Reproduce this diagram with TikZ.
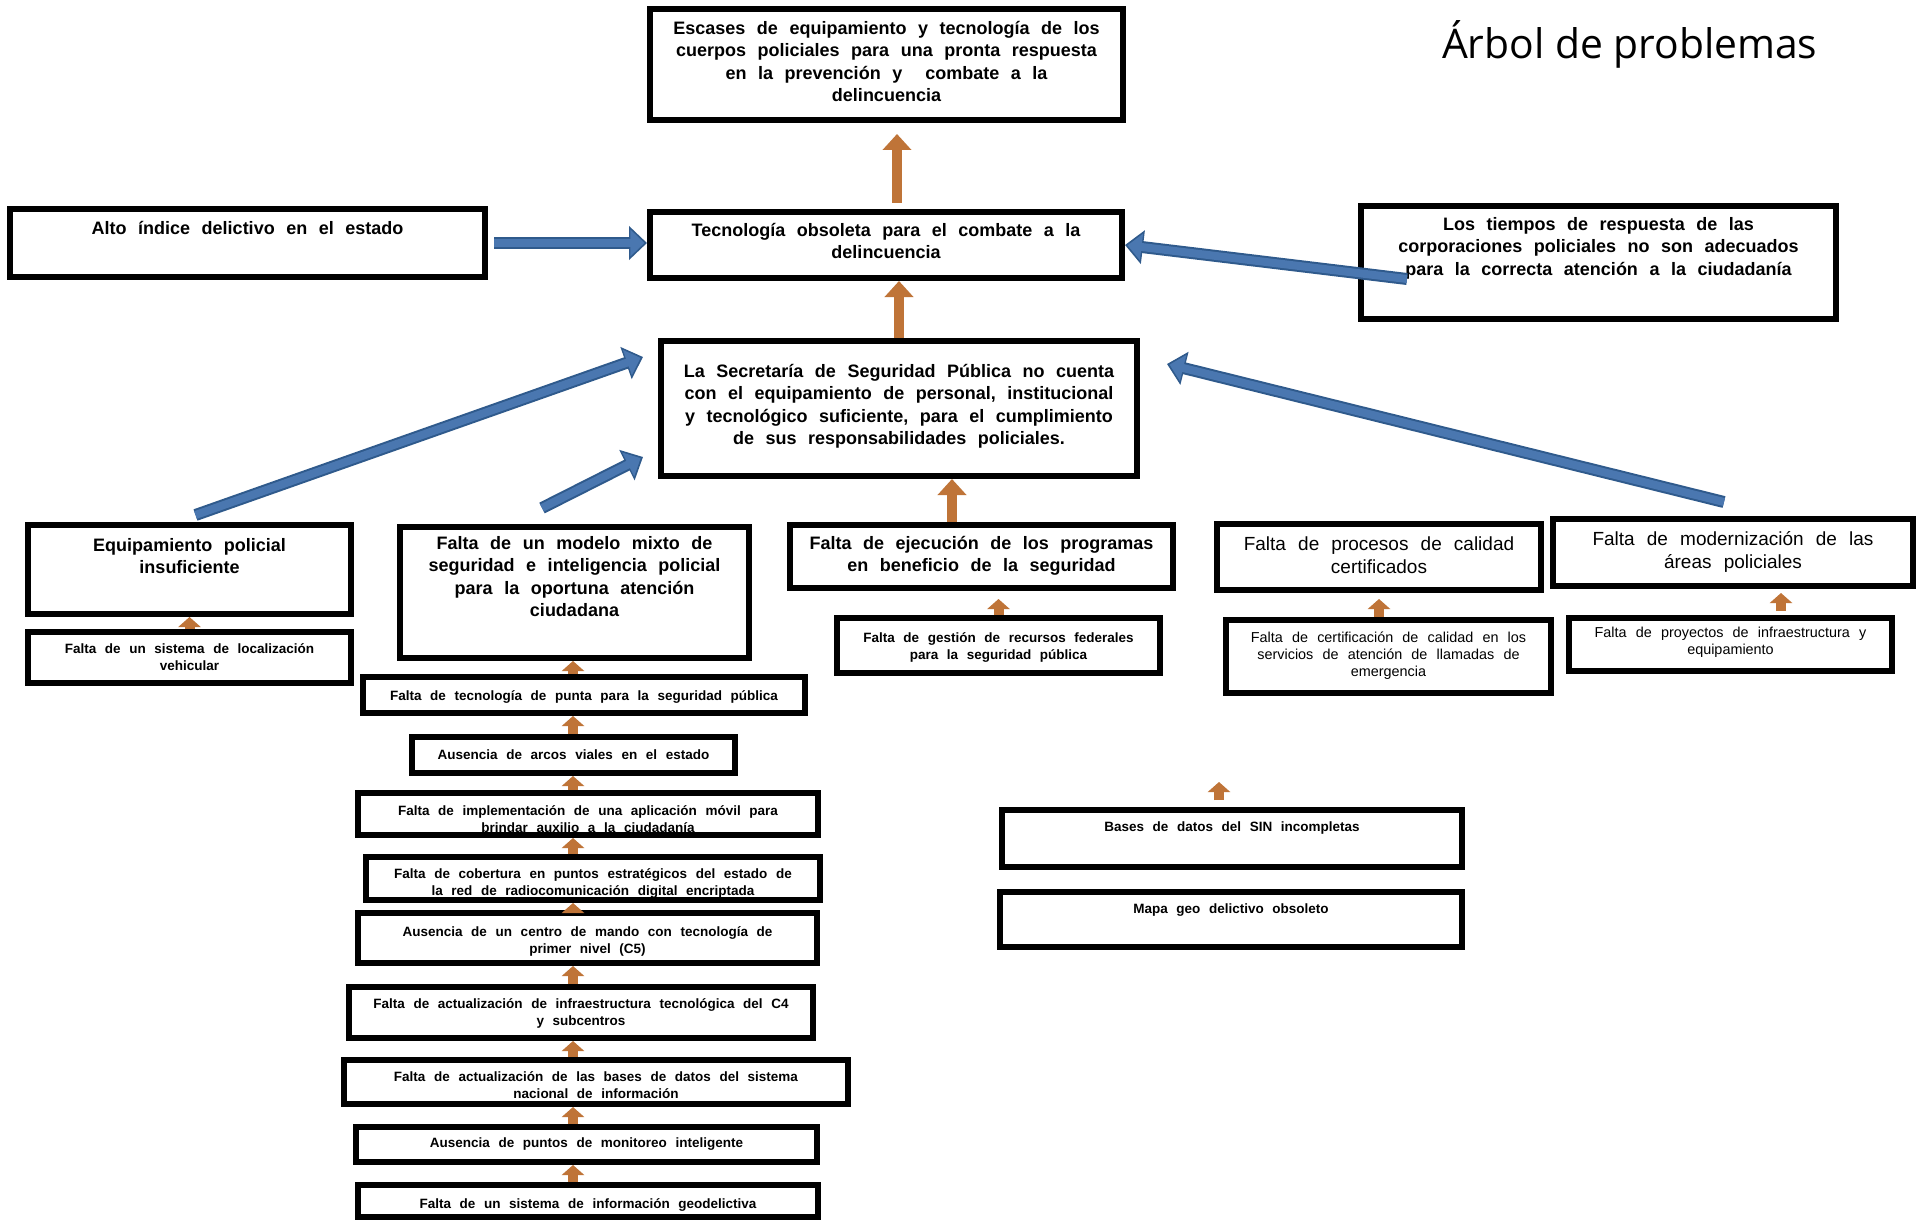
\documentclass[tikz,border=0pt]{standalone}
\usepackage{fontspec}
\setmainfont{Liberation Sans}
\newfontfamily\arialancha[WordSpace=3]{Liberation Sans}
\newfontfamily\arialmedia[WordSpace=2.3]{Liberation Sans}
\newfontfamily\arialchica[WordSpace=2.3]{Liberation Sans}
\newfontfamily\titulofont{Open Sans}
\usetikzlibrary{arrows.meta,positioning}
\definecolor{cafe}{HTML}{BF7438}
\definecolor{azul}{HTML}{4A77B0}
\definecolor{azulborde}{HTML}{2F5A8C}

\tikzset{
  caja/.style={draw, line width=3pt, rectangle, align=center, inner xsep=2pt, inner ysep=0pt, fill=white},
  grande/.style={caja, font=\arialancha\bfseries\fontsize{9pt}{11.2pt}\selectfont},
  media/.style={caja, font=\arialmedia\fontsize{9.5pt}{11.5pt}\selectfont},
  chicareg/.style={caja, font=\arialchica\fontsize{7.2pt}{8.5pt}\selectfont},
  chica/.style={caja, font=\arialchica\bfseries\fontsize{6.75pt}{8.5pt}\selectfont},
  subir/.style={text height=0pt, text depth=#1},
  bajar/.style={text height=#1, text depth=0pt},
  flecha/.style={draw=cafe, line width=5pt, -{Triangle[width=11pt,length=5pt]}},
  flechagrande/.style={draw=cafe, line width=5pt, -{Triangle[width=14pt,length=8pt]}},
  flechaazul/.style={draw=azul, line width=4pt, -{Triangle[width=13pt,length=7pt]}, shorten >=1.3pt,
    preaction={draw=azulborde, line width=6pt, -{Triangle[width=16.5pt,length=9pt]}, shorten >=0pt}}
}

\begin{document}
\begin{tikzpicture}[x=0.5pt,y=-0.5pt]
      \fill[white] (0,0) rectangle (1919,1220);
      \useasboundingbox (0,0) rectangle (1919,1220);

      % Define nodes
      \node[anchor=base west, font=\titulofont\fontsize{20.4pt}{24pt}\selectfont] (titulo) at (1435,59) {Árbol de problemas};

      \node[grande, minimum width=236.5pt, minimum height=55.5pt, bajar=37.2pt] (escases) at (886.5,64.5)
        {Escases de equipamiento y tecnología de los\\cuerpos policiales para una pronta respuesta\\en la prevención y\ \ combate a la\\delincuencia};
      \node[grande, minimum width=236pt, minimum height=33pt, bajar=13.9pt] (tecno) at (886,245)
        {Tecnología obsoleta para el combate a la\\delincuencia};
      \node[grande, minimum width=237.5pt, minimum height=34pt, subir=8.5pt] (alto) at (247.5,243)
        {Alto índice delictivo en el estado};
      \node[grande, minimum width=237.5pt, minimum height=56.5pt, bajar=12.8pt] (tiempos) at (1598.5,262.5)
        {Los tiempos de respuesta de las\\corporaciones policiales no son adecuados\\para la correcta atención a la ciudadanía};
      \node[grande, minimum width=238pt, minimum height=67.5pt, bajar=36.2pt] (ssp) at (899,408.5)
        {La Secretaría de Seguridad Pública no cuenta\\con el equipamiento de personal, institucional\\y tecnológico suficiente, para el cumplimiento\\de sus responsabilidades policiales.};

      \node[grande, minimum width=161.5pt, minimum height=44.5pt, bajar=4.4pt] (equip) at (189.5,569.5)
        {Equipamiento policial\\insuficiente};
      \node[grande, minimum width=174.5pt, minimum height=65.5pt, bajar=24.2pt] (mixto) at (574.5,592.5)
        {Falta de un modelo mixto de\\seguridad e inteligencia policial\\para la oportuna atención\\ciudadana};
      \node[grande, minimum width=191.5pt, minimum height=31.5pt, bajar=15.4pt] (ejec) at (981.5,556.5)
        {Falta de ejecución de los programas\\en beneficio de la seguridad};
      \node[media, minimum width=162pt, minimum height=33pt, bajar=16pt] (proc) at (1379,557)
        {Falta de procesos de calidad\\certificados};
      \node[media, minimum width=180pt, minimum height=33.5pt, bajar=15.5pt] (modern) at (1733,552.5)
        {Falta de modernización de las\\áreas policiales};

      \node[chica, minimum width=161.5pt, minimum height=25.5pt, bajar=13pt] (loc) at (189.5,657.5)
        {Falta de un sistema de localización\\vehicular};
      \node[chica, minimum width=161.5pt, minimum height=27.5pt, bajar=14pt] (gestion) at (998.5,645.5)
        {Falta de gestión de recursos federales\\para la seguridad pública};
      \node[chicareg, minimum width=162.5pt, minimum height=36.5pt, bajar=20pt] (cert) at (1388.5,656.5)
        {Falta de certificación de calidad en los\\servicios de atención de llamadas de\\emergencia};
      \node[chicareg, minimum width=161.5pt, minimum height=26.5pt, bajar=10pt] (proyectos) at (1730.5,644.5)
        {Falta de proyectos de infraestructura y\\equipamiento};

      % cadena bajo el modelo mixto
      \node[chica, minimum width=221pt, minimum height=18pt, bajar=5.5pt] (punta) at (584,695)
        {Falta de tecnología de punta para la seguridad pública};
      \node[chica, minimum width=161.5pt, minimum height=18pt, bajar=4.5pt] (arcos) at (573.5,755)
        {Ausencia de arcos viales en el estado};
      \node[chica, minimum width=230pt, minimum height=21pt, bajar=18.5pt] (app) at (588,814)
        {Falta de implementación de una aplicación móvil para\\brindar auxilio a la ciudadanía};
      \node[chica, minimum width=227pt, minimum height=21.5pt, bajar=17pt] (cobertura) at (593,878.5)
        {Falta de cobertura en puntos estratégicos del estado de\\la red de radiocomunicación digital encriptada};
      \node[chica, minimum width=229.5pt, minimum height=25pt, bajar=15.5pt] (centro) at (587.5,938)
        {Ausencia de un centro de mando con tecnología de\\primer nivel (C5)};
      \node[chica, minimum width=232pt, minimum height=25.5pt, bajar=13pt] (c4) at (581,1012.5)
        {Falta de actualización de infraestructura tecnológica del C4\\y subcentros};
      \node[chica, minimum width=252pt, minimum height=22pt, bajar=16.5pt] (nacional) at (596,1082)
        {Falta de actualización de las bases de datos del sistema\\nacional de información};
      \node[chica, minimum width=230.5pt, minimum height=17.5pt, bajar=3pt] (monitoreo) at (586.5,1144.5)
        {Ausencia de puntos de monitoreo inteligente};
      \node[chica, minimum width=230pt, minimum height=16pt, bajar=7.5pt] (geo) at (588,1201)
        {Falta de un sistema de información geodelictiva};

      \node[chica, minimum width=230pt, minimum height=28.5pt, subir=7pt] (sin) at (1232,838.5)
        {Bases de datos del SIN incompletas};
      \node[chica, minimum width=231pt, minimum height=27.5pt, subir=6pt] (mapa) at (1231,919.5)
        {Mapa geo delictivo obsoleto};

      % Define arrows
      \coordinate (xesc) at (897,0);
      \coordinate (xejec) at (952,0);
      \coordinate (xchain) at (573,0);
      \coordinate (xproy) at (1781,0);
      \coordinate (sinpunta) at (1219,782);
      \coordinate (tcola) at (1407,279);

      \draw[flechagrande, shorten <=3pt, shorten >=5.5pt] (tecno.north -| xesc) -- (escases.south -| xesc);
      \draw[flechagrande] (ssp.north) -- (ssp.north |- tecno.south);
      \draw[flechagrande] (ejec.north -| xejec) -- (ssp.south -| xejec);

      \draw[flecha] (loc.north) -- (loc.north |- equip.south);
      \draw[flecha, shorten >=4pt] (gestion.north) -- (gestion.north |- ejec.south);
      \draw[flecha, shorten >=3pt] (proc.south |- cert.north) -- (proc.south);
      \draw[flecha, shorten <=2pt, shorten >=2pt] (proyectos.north -| xproy) -- (modern.south -| xproy);
      \draw[flecha, shorten <=3.5pt] (sin.north -| sinpunta) -- (sinpunta);

      \draw[flecha] (punta.north -| xchain) -- (mixto.south -| xchain);
      \draw[flecha] (arcos.north -| xchain) -- (punta.south -| xchain);
      \draw[flecha] (app.north -| xchain) -- (arcos.south -| xchain);
      \draw[flecha] (cobertura.north -| xchain) -- (app.south -| xchain);
      \draw[flecha] (centro.north -| xchain) -- (cobertura.south -| xchain);
      \draw[flecha] (c4.north -| xchain) -- (centro.south -| xchain);
      \draw[flecha] (nacional.north -| xchain) -- (c4.south -| xchain);
      \draw[flecha] (monitoreo.north -| xchain) -- (nacional.south -| xchain);
      \draw[flecha] (geo.north -| xchain) -- (monitoreo.south -| xchain);

      \draw[flechaazul, shorten <=3pt] (alto.east) -- (alto.east -| tecno.west);
      \draw[flechaazul] (tcola) -- (tecno.east);
      \draw[flechaazul] ([xshift=3pt,yshift=3.5pt]equip.north) -- ([xshift=-7.5pt,yshift=-9.5pt]ssp.north west);
      \draw[flechaazul] ([xshift=-16.25pt,yshift=8pt]mixto.north) -- ([xshift=-7.5pt,yshift=11pt]ssp.south west);
      \draw[flechaazul] ([xshift=-4.5pt,yshift=7pt]modern.north) -- ([xshift=13.5pt,yshift=-13pt]ssp.north east);
    \end{tikzpicture}
\end{document}
